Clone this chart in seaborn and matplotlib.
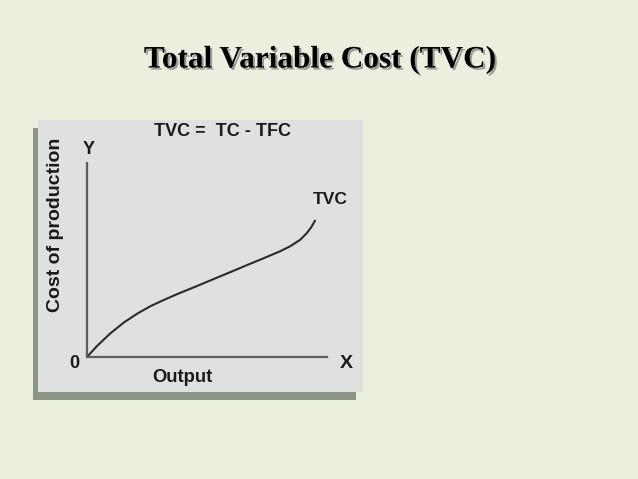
import matplotlib
matplotlib.use("Agg")
import matplotlib.pyplot as plt
import matplotlib.patheffects as pe
from matplotlib.patches import Rectangle
import seaborn as sns
import pandas as pd

# TVC curve (output vs cost, arbitrary units)
output = [0, 0.43, 0.99, 1.54, 2.10, 2.65, 3.21, 3.76, 4.57, 5.26,
          5.96, 6.65, 7.35, 8.04, 8.46, 8.88, 9.15, 9.36, 9.50]
cost = [0, 0.47, 1.00, 1.44, 1.81, 2.12, 2.38, 2.62, 2.95, 3.24,
        3.53, 3.82, 4.11, 4.40, 4.61, 4.88, 5.15, 5.43, 5.68]

title = "Total Variable Cost (TVC)"
formula = "TVC =  TC - TFC"
curve_label = "TVC"

df = pd.DataFrame({"output": output, "cost": cost})

sns.set_theme(style="white")
plt.rcParams["font.family"] = ["Liberation Sans", "DejaVu Sans"]

W, H = 638, 479
fig = plt.figure(figsize=(W / 100, H / 100), dpi=100)
fig.patch.set_facecolor("#eaf0dd")


def fx(px):
    return px / W


def fy(py):
    return 1 - py / H


# grey panel with shadow
fig.patches.append(Rectangle((fx(33), fy(400)), 323 / W, 272 / H,
                             transform=fig.transFigure, facecolor="#8d9586",
                             edgecolor="none", zorder=0))
fig.patches.append(Rectangle((fx(38), fy(392)), 325 / W, 272 / H,
                             transform=fig.transFigure, facecolor="#e0e0e0",
                             edgecolor="none", zorder=1))

ax = fig.add_axes([fx(87), fy(357), 240 / W, 194 / H])
ax.set_zorder(3)
ax.set_facecolor("none")
sns.lineplot(data=df, x="output", y="cost", sort=False, color="#2b2b2b",
             linewidth=1.5, ax=ax)
ax.set_xlim(0, 10)
ax.set_ylim(0, 8.08)
ax.set_xticks([])
ax.set_yticks([])
ax.set_xlabel("")
ax.set_ylabel("")
for s in ["top", "right"]:
    ax.spines[s].set_visible(False)
for s in ["left", "bottom"]:
    ax.spines[s].set_color("#5e5e5e")
    ax.spines[s].set_linewidth(1.6)

txt = dict(color="#1a1a1a", ha="center", va="center", fontweight="bold",
           zorder=5)
fig.text(fx(222), fy(132), formula, fontsize=13, **txt)
fig.text(fx(89), fy(150), "Y", fontsize=13, **txt)
fig.text(fx(346), fy(363), "X", fontsize=14, **txt)
fig.text(fx(74), fy(363), "0", fontsize=13, **txt)
fig.text(fx(182), fy(377), "Output", fontsize=13.3, **txt)
fig.text(fx(55), fy(225), "Cost of production", fontsize=14, rotation=90, **txt)
fig.text(fx(330), fy(200), curve_label, fontsize=12.5, **txt)

fig.text(fx(320), fy(60), title, fontsize=22.5, fontweight="bold",
         family=["Liberation Serif", "DejaVu Serif"], ha="center", va="center",
         color="black",
         path_effects=[pe.SimplePatchShadow(offset=(1.5, -1.5),
                                            shadow_rgbFace="#777777", alpha=0.7),
                       pe.Normal()])

fig.savefig("out.png", dpi=100, facecolor=fig.get_facecolor())
